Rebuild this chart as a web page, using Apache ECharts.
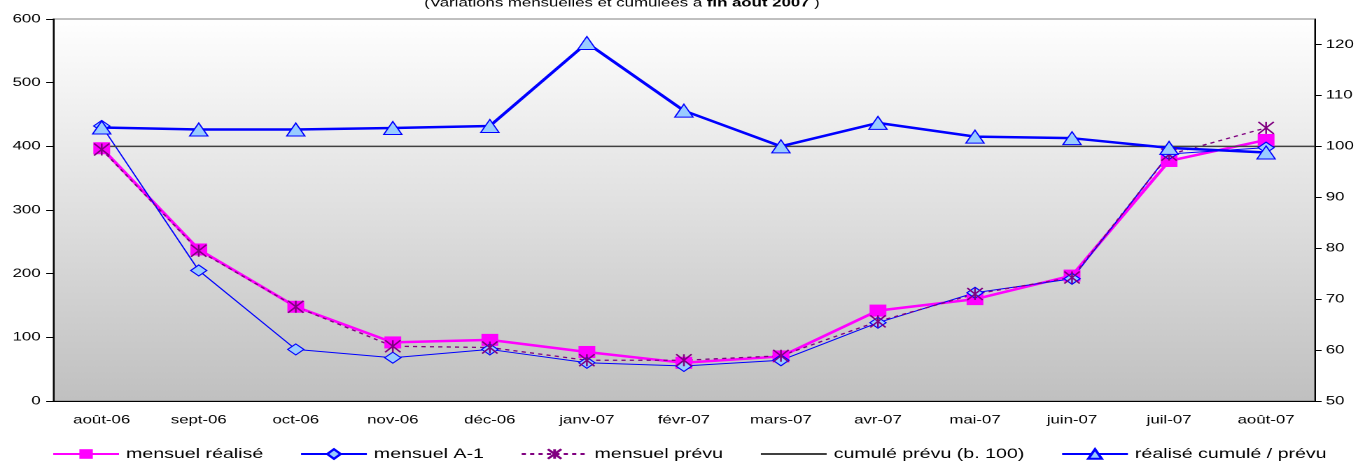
<!DOCTYPE html>
<html>
<head>
<meta charset="utf-8">
<script src="https://cdn.jsdelivr.net/npm/echarts@6/dist/echarts.min.js"></script>
<style>
  html, body { margin: 0; padding: 0; background: #fff; overflow: hidden; }
  /* the original chart is stretched horizontally (~1.4x), so we draw narrow and stretch */
  #main { width: 970.7px; height: 461px; transform: scaleX(1.4); transform-origin: 0 0; }
</style>
</head>
<body>
<div id="main"></div>
<script>
const months = ['août-06', 'sept-06', 'oct-06', 'nov-06', 'déc-06', 'janv-07', 'févr-07', 'mars-07', 'avr-07', 'mai-07', 'juin-07', 'juil-07', 'août-07'];

// left axis (monthly values)
const mensuelRealise = [397, 238, 148, 92, 96, 77, 60, 70, 142, 160, 197, 377, 410];
const mensuelA1 = [432, 205, 81, 68, 81, 60, 55, 64, 123, 170, 192, 388, 398];
const mensuelPrevu = [395, 236, 148, 86, 84, 64, 64, 71, 125, 168, 194, 387, 429];

// right axis (cumulative, base 100)
const cumulPrevu = [100, 100, 100, 100, 100, 100, 100, 100, 100, 100, 100, 100, 100];
const cumulRealise = [103.7, 103.3, 103.3, 103.6, 104.0, 120.3, 107.0, 100.0, 104.6, 101.9, 101.6, 99.7, 98.8];
const cumulLineEnd = 12.5; // the base-100 line runs on to the right border

const leftTicks = [0, 100, 200, 300, 400, 500, 600];
const rightTicks = [50, 60, 70, 80, 90, 100, 110, 120];

const FONT = '"Liberation Sans", Arial, sans-serif';
const asterisk = 'path://M0,0L10,10M0,10L10,0M5,0L5,10';

let chart = echarts.init(document.getElementById('main'), null, { devicePixelRatio: 2 });

chart.setOption({
  animation: false,
  textStyle: { fontFamily: FONT },
  title: {
    text: '(Variations mensuelles et cumulées à {b|fin août 2007} )',
    left: 298,
    top: -8,
    textStyle: {
      fontSize: 12, fontWeight: 'normal', color: '#000', fontFamily: FONT,
      rich: { b: { fontSize: 12, fontWeight: 'bold', color: '#000', fontFamily: FONT } }
    }
  },
  grid: {
    left: 38, right: 32, top: 19, bottom: 60,
    show: true,
    borderColor: '#808080',
    borderWidth: 1,
    backgroundColor: {
      type: 'linear', x: 0, y: 0, x2: 0, y2: 1,
      colorStops: [{ offset: 0, color: '#ffffff' }, { offset: 1, color: '#c0c0c0' }]
    }
  },
  legend: {
    left: 37, top: 447, padding: 0,
    itemWidth: 47, itemHeight: 12, itemGap: 26,
    textStyle: { fontSize: 14, color: '#000', fontFamily: FONT },
    data: [
      'mensuel réalisé',
      'mensuel A-1',
      'mensuel prévu',
      { name: 'cumulé prévu (b. 100)', itemStyle: { opacity: 0 } },
      'réalisé cumulé / prévu'
    ]
  },
  xAxis: [
    {
      type: 'category',
      data: months,
      axisLine: { lineStyle: { color: '#000', width: 1 } },
      axisTick: { lineStyle: { color: '#000' }, length: 5 },
      axisLabel: { color: '#000', fontSize: 12, margin: 13, interval: 0 },
      splitLine: { show: false }
    },
    { type: 'value', min: -0.5, max: 12.5, show: false }
  ],
  yAxis: [
    {
      type: 'value', min: 0, max: 600, interval: 100,
      axisLine: { show: true, onZero: false, lineStyle: { color: '#000' } },
      axisTick: { show: true, length: 5, lineStyle: { color: '#000' } },
      axisLabel: { color: '#000', fontSize: 12, margin: 9, customValues: leftTicks },
      splitLine: { show: false }
    },
    {
      type: 'value', min: 50, max: 125, interval: 10,
      position: 'right',
      axisLine: { show: true, onZero: false, lineStyle: { color: '#000' } },
      axisTick: { show: true, length: 5, lineStyle: { color: '#000' }, customValues: rightTicks },
      axisLabel: { color: '#000', fontSize: 12, margin: 8, customValues: rightTicks },
      splitLine: { show: false }
    }
  ],
  series: [
    {
      name: 'mensuel réalisé', type: 'line', data: mensuelRealise,
      symbol: 'rect', symbolSize: 12,
      lineStyle: { color: '#ff00ff', width: 2.5 },
      itemStyle: { color: '#ff00ff' }
    },
    {
      name: 'mensuel A-1', type: 'line', data: mensuelA1,
      symbol: 'diamond', symbolSize: [11.5, 11],
      lineStyle: { color: '#0000ff', width: 1 },
      itemStyle: { color: '#99ccff', borderColor: '#0000ff', borderWidth: 1 }
    },
    {
      name: 'mensuel prévu', type: 'line', data: mensuelPrevu,
      symbol: asterisk, symbolSize: [11, 12],
      lineStyle: { color: '#800080', width: 1.3, type: [3, 3] },
      itemStyle: { color: 'transparent', borderColor: '#800080', borderWidth: 1.3 }
    },
    {
      name: 'cumulé prévu (b. 100)', type: 'line',
      xAxisIndex: 1, yAxisIndex: 1,
      data: cumulPrevu.map((v, i) => [i, v]).concat([[cumulLineEnd, cumulPrevu[cumulPrevu.length - 1]]]),
      symbol: 'none',
      lineStyle: { color: '#404040', width: 1.5 },
      itemStyle: { color: '#404040' }
    },
    {
      name: 'réalisé cumulé / prévu', type: 'line', data: cumulRealise,
      yAxisIndex: 1,
      symbol: 'triangle', symbolSize: [13, 13],
      lineStyle: { color: '#0000ff', width: 2.5 },
      itemStyle: { color: '#99ccff', borderColor: '#0000ff', borderWidth: 1 }
    }
  ]
});
</script>
</body>
</html>
